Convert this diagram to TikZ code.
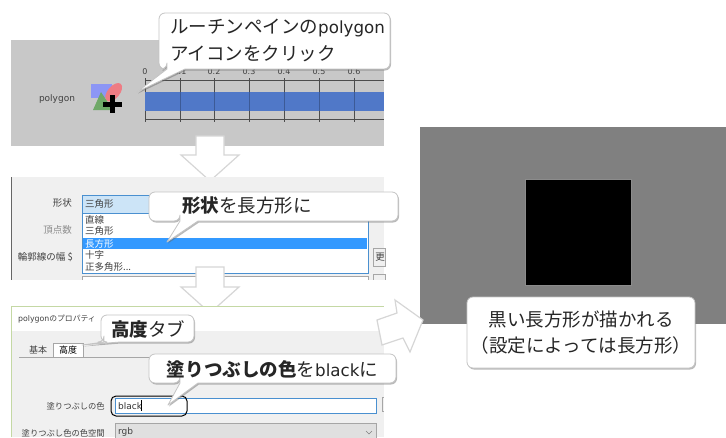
\documentclass[tikz,border=0pt]{standalone}
\usepackage{fontspec}
\setmainfont{Noto Sans CJK JP}
\newfontfamily\lat{DejaVu Sans}
\usetikzlibrary{shadows}
\definecolor{ink}{HTML}{262626}
\definecolor{uitext}{HTML}{404040}
\definecolor{panelgray}{HTML}{C8C8C8}
\definecolor{dialog}{HTML}{F0F0F0}
\definecolor{barblue}{HTML}{5078C8}
\definecolor{selblue}{HTML}{3399FF}
\definecolor{combo}{HTML}{CCE4F7}
\definecolor{edgeblue}{HTML}{4A90D0}
\definecolor{greenline}{HTML}{C4D8A4}
\definecolor{outline}{HTML}{C4C4C4}
\definecolor{iconblue}{HTML}{8C96F5}
\definecolor{iconred}{HTML}{EE7C84}
\definecolor{icongreen}{HTML}{6FA868}
\tikzset{
  x=1pt,y=-1pt,
  calloutshape/.style={fill=white,draw=outline,line width=.8pt,line join=round,
    drop shadow={shadow xshift=1pt,shadow yshift=-1.5pt,opacity=.45,fill=black!60}},
  arrowshape/.style={fill=white,draw=outline!70,line width=1.2pt,line join=miter},
  calltext/.style={inner sep=0pt,font=\fontsize{18.5}{22}\selectfont,text=ink,anchor=center},
  uilabel/.style={inner sep=0pt,font=\fontsize{9.5}{11}\selectfont,text=uitext},
  smalllabel/.style={uilabel,font=\fontsize{8.3}{10}\selectfont},
  ticklab/.style={inner sep=0pt,font=\lat\fontsize{8}{10}\selectfont,text=uitext},
  ruler/.style={draw=black!70,line width=.6pt},
  uibox/.style={draw=black!35,line width=.6pt},
}
\newcommand{\calloutpath}[8]{%
  \path[calloutshape] (#5,#4) -- (#7,#8) -- (#6,#4)
    [rounded corners=6pt] -- (#3,#4) -- (#3,#2) -- (#1,#2) -- (#1,#4) -- (#5,#4) [sharp corners] -- cycle;}
\begin{document}
\begin{tikzpicture}
\useasboundingbox (0,0) rectangle (726,437);
% panel 1
\fill[panelgray] (11,40) rectangle (384,146);
\foreach \px/\lb in {145/0,180/0.1,214/0.2,249/0.3,284/0.4,319/0.5,354/0.6}{
  \draw[ruler] (\px,78) -- (\px,122);
  \node[ticklab] at (\px,72) {\lb};
}
\draw[ruler] (145,80) -- (384,80);
\draw[ruler] (145,119) -- (384,119);
\fill[barblue] (145,92) rectangle (384,111);
\foreach \px in {180,214,249,284,319,354}{\draw[barblue!75!black,line width=.6pt] (\px,92) -- (\px,111);}
\node[uilabel,font=\lat\fontsize{9}{11}\selectfont] (polylabel) at (57,99) {polygon};
% polygon icon
\fill[iconblue] (91,84) rectangle (112,98);
\begin{scope}[shift={(113.7,92.3)},rotate=50]
\fill[iconred] (0,0) ellipse (11 and 6);
\end{scope}
\fill[icongreen] (93,110) -- (101,92) -- (113,110) -- cycle;
\fill[black] (110,95) rectangle (115,113);
\fill[black] (103,102) rectangle (122,107);
% arrow 1
\path[arrowshape] (196,136) -- (224,136) -- (224,155) -- (239,155) -- (210,181) -- (181,155) -- (196,155) -- cycle;
% panel 2
\fill[dialog] (11,177) rectangle (384,280);
\draw[black!60,line width=.6pt] (11,177) -- (11,280);
\draw[edgeblue,fill=combo,line width=.6pt] (82,195) rectangle (368,213);
\draw[edgeblue,fill=white,line width=.8pt] (82,213) rectangle (368,273);
\fill[selblue] (83,238) rectangle (367,249);
\node[uilabel,anchor=west] (sel0) at (85,204) {三角形};
\node[uilabel,anchor=west] (opt1) at (85,220) {直線};
\node[uilabel,anchor=west] (opt2) at (85,231) {三角形};
\node[uilabel,anchor=west,text=white] (opt3) at (85,244) {長方形};
\node[uilabel,anchor=west] (opt4) at (85,255) {十字};
\node[uilabel,anchor=west] (opt5) at (85,267) {正多角形...};
\node[uilabel,anchor=east] (lab1) at (72,203) {形状};
\node[uilabel,anchor=east,text=black!45] (lab2) at (72,230) {頂点数};
\node[uilabel,anchor=east] (lab3) at (73,257) {輪郭線の幅 \$};
\draw[uibox,fill=white] (82,276) rectangle (368,281);
\draw[uibox,fill=dialog] (373,248) rectangle (385,266);
\node[uilabel] (btn) at (380,257) {更};
\draw[uibox,fill=dialog] (373,274) rectangle (385,281);
\fill[white] (0,280) rectangle (390,300);
% arrow 2
\path[arrowshape] (196,267) -- (224,267) -- (224,287) -- (239,287) -- (210,313) -- (181,287) -- (196,287) -- cycle;
% panel 3
\fill[white] (11,306) rectangle (384,331);
\fill[dialog] (11,331) rectangle (384,437);
\draw[greenline,line width=1pt] (11,437) -- (11,306.5) -- (384,306.5);
\node[uilabel,anchor=west,font=\fontsize{7.8}{10}\selectfont] (title) at (18,319) {{\lat polygon}のプロパティ};
\draw[black!35,line width=.6pt] (19,357) -- (384,357);
\draw[black!35,line width=.6pt,fill=white] (53,357) -- (53,343) -- (83,343) -- (83,357);
\node[uilabel,font=\fontsize{9}{11}\selectfont] (tab1) at (38,350) {基本};
\node[uilabel,font=\fontsize{9}{11}\selectfont,text=black] (tab2) at (68,350) {高度};
\draw[edgeblue,fill=white,line width=.8pt] (115,398) rectangle (376,413);
\node[uilabel,anchor=west,font=\lat\fontsize{9}{11}\selectfont,text=black!80] (val) at (118,406) {black};
\draw[black,line width=.5pt] (141,400) -- (141,411);
\node[smalllabel,anchor=east] (lab4) at (105,406) {塗りつぶしの色};
\node[smalllabel,anchor=east] (lab5) at (105,433) {塗りつぶし色の色空間};
\draw[uibox,fill=black!12] (115,423) rectangle (376,438);
\node[uilabel,anchor=west,font=\lat\fontsize{9}{11}\selectfont] (rgb) at (118,432) {rgb};
\draw[black!50,line width=.6pt] (366,431) -- (369,434) -- (372,431);
\draw[uibox,fill=dialog] (382,397) rectangle (386,411);
\fill[white] (384,300) rectangle (390,437);
\draw[black,line width=1pt,rounded corners=5pt] (111,396) rectangle (187,416);
% right panel
\fill[black!50] (420,127) rectangle (726,324);
\draw[black!45,fill=black,line width=.6pt] (525,179) rectangle (631,285);
% arrow 3
\path[arrowshape] (377,320) -- (397,313) -- (395,300) -- (423,320) -- (410,352) -- (403,338) -- (382,345) -- cycle;
% callouts
\calloutpath{159}{13}{390}{69}{167}{185}{137}{92}
\node[calltext,anchor=west] (c1a) at (170,28) {ルーチンペインの{\lat\fontsize{16.7}{20}\selectfont polygon}};
\node[calltext,anchor=west] (c1b) at (170,54) {アイコンをクリック};
\calloutpath{149}{192}{398}{221}{180}{198}{167}{242}
\node[calltext,anchor=west] (c2) at (182,206) {\textbf{形状}を長方形に};
\calloutpath{101}{315}{194}{342}{104}{120}{82}{345}
\node[calltext] (c3) at (148,329) {\textbf{高度}タブ};
\calloutpath{149}{354}{396}{383}{180}{198}{168}{405}
\node[calltext] (c4) at (272.5,369) {\textbf{塗りつぶしの色}を{\lat\fontsize{16.7}{20}\selectfont black}に};
\path[calloutshape,rounded corners=6pt] (467,297) rectangle (695,368);
\node[calltext] (c5a) at (581,319) {黒い長方形が描かれる};
\node[calltext] (c5b) at (581,345) {（設定によっては長方形）};
\end{tikzpicture}
\end{document}
